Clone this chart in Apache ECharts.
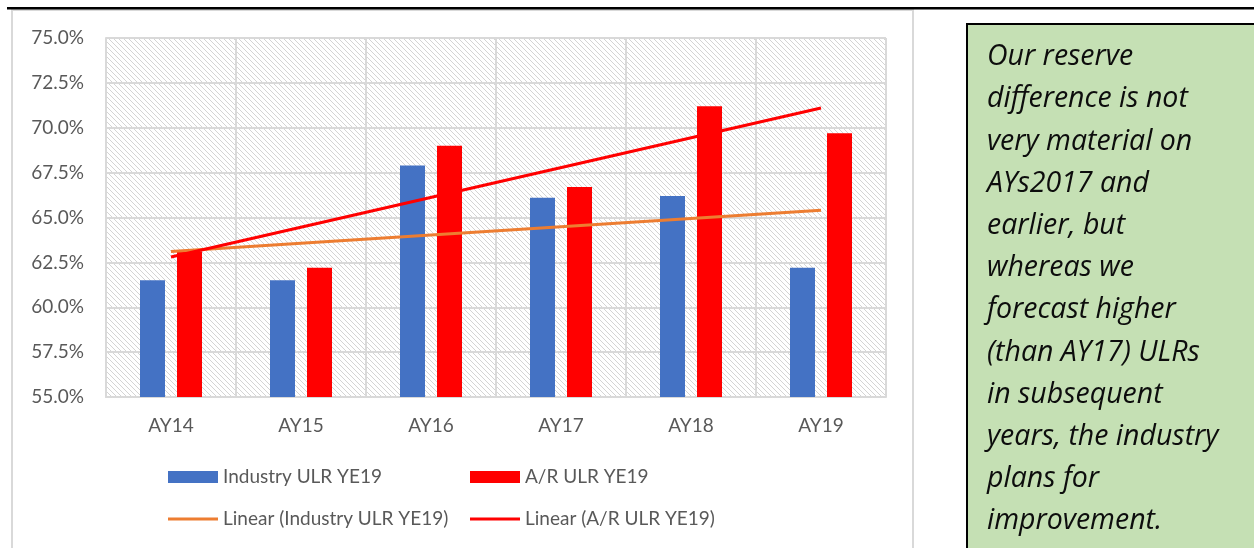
<!DOCTYPE html>
<html>
<head>
<meta charset="utf-8">
<script src="https://cdn.jsdelivr.net/npm/echarts@6/dist/echarts.min.js"></script>
<style>
  html, body { margin: 0; padding: 0; background: #ffffff; }
  #chart { width: 1254px; height: 548px; }
</style>
</head>
<body>
<div id="chart"></div>
<script>
// accident years
const categories = ['AY14', 'AY15', 'AY16', 'AY17', 'AY18', 'AY19'];
// ultimate loss ratios, %
const industryUlr = [61.5, 61.5, 67.9, 66.1, 66.2, 62.2];
const arUlr = [63.1, 62.2, 69.0, 66.7, 71.2, 69.7];
// linear trend lines, read at first and last year
const industryTrend = [63.1, null, null, null, null, 65.4];
const arTrend = [62.8, null, null, null, null, 71.1];
const yTicks = { min: 55, max: 75, step: 2.5 };

const noteText = [
  'Our reserve',
  'difference is not',
  'very material on',
  'AYs2017 and',
  'earlier, but',
  'whereas we',
  'forecast higher',
  '(than AY17) ULRs',
  'in subsequent',
  'years, the industry',
  'plans for',
  'improvement.'
].join('\n');

// hatch fill for the plot area
function hatch() {
  let c = document.createElement('canvas');
  c.width = 5; c.height = 5;
  let ctx = c.getContext('2d');
  ctx.fillStyle = '#ffffff';
  ctx.fillRect(0, 0, 5, 5);
  ctx.strokeStyle = '#d4d4d4';
  ctx.lineWidth = 1;
  ctx.beginPath();
  ctx.moveTo(-5, 0); ctx.lineTo(5, 10);
  ctx.moveTo(0, 0); ctx.lineTo(5, 5);
  ctx.moveTo(0, -5); ctx.lineTo(10, 5);
  ctx.stroke();
  return c;
}

const font = 'Lato, "Open Sans", sans-serif';
const grey = '#595959';
const gridCol = '#d9d9d9';
// thin bar used as the legend mark of the trend lines
const lineIcon = 'path://M0,0H50V3H0Z';

let myChart = echarts.init(document.getElementById('chart'), null, { renderer: 'canvas' });

myChart.setOption({
  backgroundColor: '#ffffff',
  animation: false,
  textStyle: { fontFamily: font },
  grid: {
    left: 106,
    top: 38,
    width: 780,
    height: 359,
    show: true,
    borderWidth: 0,
    backgroundColor: { image: hatch(), repeat: 'repeat' }
  },
  xAxis: {
    type: 'category',
    data: categories,
    boundaryGap: true,
    axisLine: { show: true, lineStyle: { color: gridCol, width: 2 } },
    axisTick: { show: false },
    axisLabel: { color: grey, fontSize: 19, margin: 19, fontFamily: font },
    splitLine: { show: true, lineStyle: { color: gridCol, width: 2 } }
  },
  yAxis: {
    type: 'value',
    min: yTicks.min,
    max: yTicks.max,
    interval: yTicks.step,
    axisLine: { show: true, lineStyle: { color: gridCol, width: 2 } },
    axisTick: { show: false },
    axisLabel: {
      color: grey, fontSize: 19, margin: 22, fontFamily: font,
      formatter: function (v) { return v.toFixed(1) + '%'; }
    },
    splitLine: { show: true, lineStyle: { color: gridCol, width: 2 } }
  },
  legend: [
    {
      orient: 'vertical',
      left: 168,
      top: 466,
      padding: 0,
      itemWidth: 50,
      itemHeight: 12,
      itemGap: 20,
      textStyle: { color: grey, fontSize: 19, lineHeight: 22, fontFamily: font },
      data: [
        { name: 'Industry ULR YE19', icon: 'rect' },
        { name: 'Linear (Industry ULR YE19)', icon: lineIcon }
      ]
    },
    {
      orient: 'vertical',
      left: 470,
      top: 466,
      padding: 0,
      itemWidth: 50,
      itemHeight: 12,
      itemGap: 20,
      textStyle: { color: grey, fontSize: 19, lineHeight: 22, fontFamily: font },
      data: [
        { name: 'A/R ULR YE19', icon: 'rect' },
        { name: 'Linear (A/R ULR YE19)', icon: lineIcon }
      ]
    }
  ],
  series: [
    {
      name: 'Industry ULR YE19',
      type: 'bar',
      data: industryUlr,
      barWidth: 25,
      barGap: '48%',
      itemStyle: { color: '#4472c4' }
    },
    {
      name: 'A/R ULR YE19',
      type: 'bar',
      data: arUlr,
      barWidth: 25,
      barGap: '48%',
      itemStyle: { color: '#ff0000' }
    },
    {
      name: 'Linear (Industry ULR YE19)',
      type: 'line',
      data: industryTrend,
      connectNulls: true,
      symbol: 'none',
      z: 5,
      lineStyle: { color: '#ed7d31', width: 3 },
      itemStyle: { color: '#ed7d31' }
    },
    {
      name: 'Linear (A/R ULR YE19)',
      type: 'line',
      data: arTrend,
      connectNulls: true,
      symbol: 'none',
      z: 5,
      lineStyle: { color: '#ff0000', width: 3 },
      itemStyle: { color: '#ff0000' }
    }
  ],
  graphic: [
    // chart frame
    {
      type: 'rect', silent: true, z: -10,
      shape: { x: 12, y: 10, width: 901, height: 548 },
      style: { fill: 'none', stroke: gridCol, lineWidth: 2 }
    },
    // rule across the top
    {
      type: 'rect', silent: true, z: 10,
      shape: { x: 7, y: 7, width: 1247, height: 2.5 },
      style: { fill: '#000000' }
    },
    // green note box
    {
      type: 'rect', silent: true, z: 10,
      shape: { x: 967, y: 24, width: 300, height: 540 },
      style: { fill: '#c5e0b4', stroke: '#000000', lineWidth: 2 }
    },
    {
      type: 'text', silent: true, z: 11,
      left: 987, top: 36,
      style: {
        text: noteText,
        fill: '#0d0d0d',
        font: 'italic 28.5px "Open Sans", Lato, sans-serif',
        lineHeight: 42.2
      }
    }
  ]
});
</script>
</body>
</html>
